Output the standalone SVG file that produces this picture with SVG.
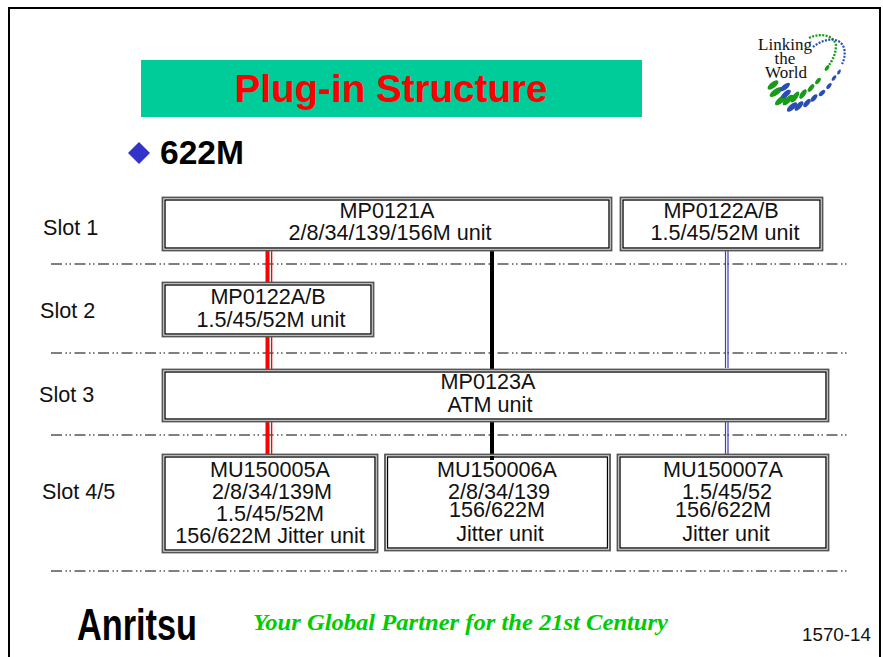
<svg xmlns="http://www.w3.org/2000/svg" width="883" height="657" viewBox="0 0 883 657">
<style>
.o{fill:#fff;stroke:#555;stroke-width:1.800}
.i{fill:none;stroke:#000;stroke-width:1.300}
.t{font-family:"Liberation Sans",Arial,sans-serif;font-size:21.600px;fill:#111;text-anchor:middle}
.s{font-family:"Liberation Sans",Arial,sans-serif;font-size:21.600px;fill:#111}
.d{fill:none;stroke:#000;stroke-width:1;stroke-dasharray:11 3.500 1.500 2.500 1.500 3.500}
.lg{font-family:"Liberation Serif","Times New Roman",serif;font-size:17px;fill:#111;text-anchor:middle}
.g{fill:#1a9a1a}.b{fill:#2a4db5}
</style>
<rect width="883" height="657" fill="#fff"/>
<path d="M9 660V8H880V660" fill="none" stroke="#000" stroke-width="2"/>
<g id="title">
<rect x="141" y="60" width="501" height="57" fill="#00cc99"/>
<text x="391" y="102" font-family="'Liberation Sans',Arial,sans-serif" font-size="38.600" font-weight="700" fill="#f00" text-anchor="middle">Plug-in Structure</text>
</g>
<g id="heading">
<polygon points="139,142 150,153 139,164 128,153" fill="#3333cc"/>
<text x="160" y="164" font-family="'Liberation Sans',Arial,sans-serif" font-size="33.600" font-weight="700" fill="#000">622M</text>
</g>
<g id="logo">
<text class="lg" x="785" y="50">Linking</text>
<text class="lg" x="785" y="64">the</text>
<text class="lg" x="786" y="78">World</text>
<path d="M809 38C822 32 834 36 836 45C836 56 830 64 827 68" fill="none" stroke="#1a9a1a" stroke-width="2.400" stroke-dasharray="2 1.400"/>
<path d="M813 47C824 38 840 36 844 48C846 56 843 62 842 64" fill="none" stroke="#2a4db5" stroke-width="2.200" stroke-dasharray="2 1.400"/>
<g class="g">
<ellipse cx="773" cy="85" rx="6.500" ry="3" transform="rotate(-38 773 85)"/>
<ellipse cx="776" cy="92" rx="7.500" ry="3" transform="rotate(-35 776 92)"/>
<ellipse cx="781" cy="100" rx="7.500" ry="3" transform="rotate(-40 781 100)"/>
<ellipse cx="788" cy="100" rx="7" ry="2.800" transform="rotate(-45 788 100)"/>
<ellipse cx="795" cy="97" rx="6.500" ry="2.600" transform="rotate(-55 795 97)"/>
<ellipse cx="803" cy="94" rx="5.500" ry="2.500" transform="rotate(-55 803 94)"/>
<ellipse cx="811" cy="88" rx="4.500" ry="2.200" transform="rotate(-52 811 88)"/>
<ellipse cx="818" cy="81" rx="3.800" ry="2" transform="rotate(-52 818 81)"/>
<ellipse cx="827" cy="68" rx="3.200" ry="1.700" transform="rotate(-55 827 68)"/>
</g>
<g class="b">
<ellipse cx="785" cy="87" rx="6" ry="2.600" transform="rotate(-38 785 87)"/>
<ellipse cx="786" cy="94" rx="6" ry="2.600" transform="rotate(-40 786 94)"/>
<ellipse cx="792" cy="107" rx="6.500" ry="2.800" transform="rotate(-42 792 107)"/>
<ellipse cx="799" cy="106" rx="6" ry="2.600" transform="rotate(-48 799 106)"/>
<ellipse cx="807" cy="103" rx="5" ry="2.400" transform="rotate(-50 807 103)"/>
<ellipse cx="814" cy="98" rx="4.500" ry="2.200" transform="rotate(-50 814 98)"/>
<ellipse cx="822" cy="93" rx="4" ry="2" transform="rotate(-45 822 93)"/>
<ellipse cx="829" cy="86" rx="3.500" ry="1.800" transform="rotate(-50 829 86)"/>
<ellipse cx="834" cy="78" rx="3.200" ry="1.600" transform="rotate(-55 834 78)"/>
<ellipse cx="839" cy="72" rx="2.800" ry="1.400" transform="rotate(-60 839 72)"/>
</g>
</g>
<g id="slot-labels">
<text class="s" x="43" y="235">Slot 1</text>
<text class="s" x="40" y="318">Slot 2</text>
<text class="s" x="39" y="402">Slot 3</text>
<text class="s" x="42" y="499">Slot 4/5</text>
</g>
<g id="dividers">
<path class="d" d="M51 264H847"/>
<path class="d" d="M51 353H847"/>
<path class="d" d="M51 435H847"/>
<path class="d" d="M51 571H847"/>
</g>
<g id="connectors">
<g fill="#f00">
<rect x="265.500" y="251" width="4" height="31"/><rect x="271" y="251" width="1.300" height="31"/>
<rect x="265.500" y="337" width="4" height="32"/><rect x="271" y="337" width="1.300" height="32"/>
<rect x="265.500" y="422" width="4" height="33"/><rect x="271" y="422" width="1.300" height="33"/>
</g>
<path d="M492 251V369M492 422V460" stroke="#000" stroke-width="4" fill="none"/>
<g stroke="#3c3cc4" stroke-width="1.200" fill="none">
<path d="M725.500 250V368M728 250V368M725.500 422V455M728 422V455"/>
</g>
</g>
<g id="mp0121a">
<rect class="o" x="162.500" y="197.500" width="449" height="53"/><rect class="i" x="165" y="200" width="444" height="48"/>
<text class="t" x="387" y="218">MP0121A</text><text class="t" x="390" y="240">2/8/34/139/156M unit</text>
</g>
<g id="mp0122ab-slot1">
<rect class="o" x="620.500" y="197.500" width="202" height="53"/><rect class="i" x="623" y="200" width="197" height="48"/>
<text class="t" x="721" y="218">MP0122A/B</text><text class="t" x="725" y="240">1.5/45/52M unit</text>
</g>
<g id="mp0122ab-slot2">
<rect class="o" x="162.500" y="282.500" width="211" height="54"/><rect class="i" x="165" y="285" width="206" height="49"/>
<text class="t" x="268" y="304">MP0122A/B</text><text class="t" x="271" y="327">1.5/45/52M unit</text>
</g>
<g id="mp0123a">
<rect class="o" x="162.500" y="369.500" width="666" height="52"/><rect class="i" x="165" y="372" width="661" height="47"/>
<text class="t" x="488" y="389">MP0123A</text><text class="t" x="490" y="412">ATM unit</text>
</g>
<g id="mu150005a">
<rect class="o" x="162.500" y="454.500" width="215" height="98"/><rect class="i" x="165" y="457" width="210" height="93"/>
<text class="t" x="270" y="477">MU150005A</text><text class="t" x="272" y="499">2/8/34/139M</text><text class="t" x="270" y="521">1.5/45/52M</text><text class="t" x="270" y="543">156/622M Jitter unit</text>
</g>
<g id="mu150006a">
<rect class="o" x="385" y="454.500" width="225" height="96"/><rect class="i" x="387.500" y="457" width="220" height="91"/>
<path d="M492 456V460" stroke="#000" stroke-width="4"/>
<text class="t" x="497" y="477">MU150006A</text><text class="t" x="499" y="499">2/8/34/139</text><text class="t" x="497" y="517">156/622M</text><text class="t" x="500" y="541">Jitter unit</text>
</g>
<g id="mu150007a">
<rect class="o" x="617.500" y="454.500" width="211" height="96"/><rect class="i" x="620" y="457" width="206" height="91"/>
<text class="t" x="723" y="477">MU150007A</text><text class="t" x="727" y="499">1.5/45/52</text><text class="t" x="723" y="517">156/622M</text><text class="t" x="726" y="541">Jitter unit</text>
</g>
<g id="footer">
<text x="77" y="640" font-family="'Liberation Sans',Arial,sans-serif" font-size="44" font-weight="700" fill="#000" textLength="120" lengthAdjust="spacingAndGlyphs">Anritsu</text>
<text x="253" y="630" font-family="'Liberation Serif','Times New Roman',serif" font-size="23" font-weight="700" font-style="italic" fill="#00cc00" textLength="415" lengthAdjust="spacingAndGlyphs">Your Global Partner for the 21st Century</text>
<text x="802" y="641" font-family="'Liberation Sans',Arial,sans-serif" font-size="18.800" fill="#111">1570-14</text>
</g>
</svg>
